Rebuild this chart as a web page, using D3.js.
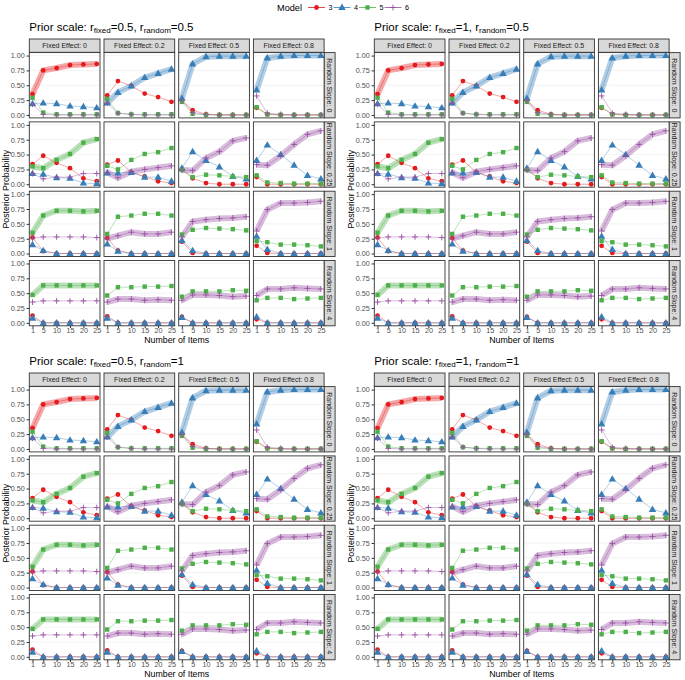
<!DOCTYPE html>
<html><head><meta charset="utf-8">
<script src="https://cdn.jsdelivr.net/npm/d3@7"></script>
<style>body{margin:0;background:#fff}svg{display:block;font-family:"Liberation Sans",Arial,sans-serif}</style>
</head><body>
<svg id="c" width="685" height="680"></svg>
<script>
const xItems = [1, 5, 10, 15, 20, 25];
const fixedEffects = ["0", "0.2", "0.5", "0.8"];
const randomSlopes = ["0", "0.25", "1", "4"];
const models = ["3", "4", "5", "6"];
const priorFixed = ["0.5", "1", "0.5", "1"];
const priorRandom = ["0.5", "0.5", "1", "1"];
const yTicks = [0, 0.25, 0.5, 0.75, 1];
// true (generating) model per [randomSlope][fixedEffect] -> drawn as thick band
const trueModel = [
  ["3", "4", "4", "4"],
  ["5", "6", "6", "6"],
  ["5", "6", "6", "6"],
  ["5", "6", "6", "6"]
];
// posterior probabilities, [randomSlope][fixedEffect] -> values at xItems
const probModel3 = [
  [[.35,.75,.79,.84,.85,.86],[.33,.57,.49,.36,.30,.22],[.25,.08,.01,0,0,0],[.12,.01,0,0,0,0]],
  [[.34,.48,.36,.27,.10,.05],[.33,.40,.20,.13,.05,.02],[.25,.10,.02,0,0,0],[.12,0,0,0,0,0]],
  [[.27,.04,0,0,0,0],[.26,.05,0,0,0,0],[.20,.01,0,0,0,0],[.13,.01,0,0,0,0]],
  [[.12,0,0,0,0,0],[.11,0,0,0,0,0],[.10,0,0,0,0,0],[.06,0,0,0,0,0]]
];
const probModel4 = [
  [[.19,.20,.19,.15,.14,.12],[.20,.38,.49,.63,.70,.77],[.28,.86,.98,.99,.99,.99],[.42,.96,.99,1,1,1]],
  [[.18,.17,.11,.10,.02,.01],[.19,.19,.20,.12,.12,.05],[.27,.55,.40,.29,.13,.09],[.40,.66,.50,.32,.15,.09]],
  [[.15,.05,0,0,0,0],[.16,.04,0,0,0,0],[.22,.05,0,0,0,0],[.29,.07,0,0,0,0]],
  [[.08,0,0,0,0,0],[.08,0,0,0,0,0],[.09,0,0,0,0,0],[.10,0,0,0,0,0]]
];
const probModel5 = [
  [[.29,.04,.01,.01,.01,.01],[.27,.03,.01,.01,.01,.01],[.22,.02,0,0,0,0],[.13,.01,0,0,0,0]],
  [[.30,.27,.41,.51,.70,.76],[.31,.25,.41,.51,.54,.61],[.24,.12,.16,.15,.13,.12],[.15,.03,.02,.01,.01,.01]],
  [[.35,.64,.72,.72,.71,.72],[.33,.62,.64,.67,.67,.64],[.32,.40,.43,.42,.41,.39],[.21,.19,.15,.15,.14,.12]],
  [[.47,.63,.63,.63,.63,.63],[.46,.60,.60,.61,.61,.62],[.44,.53,.53,.53,.55,.54],[.38,.42,.42,.40,.41,.42]]
];
const probModel6 = [
  [[.18,.01,0,0,0,0],[.20,.03,.01,0,0,0],[.24,.04,.01,0,0,0],[.32,.03,.01,0,0,0]],
  [[.18,.09,.12,.12,.18,.18],[.20,.11,.21,.25,.28,.31],[.24,.23,.44,.55,.73,.78],[.33,.32,.48,.67,.84,.90]],
  [[.26,.28,.28,.28,.28,.27],[.25,.30,.36,.33,.33,.36],[.28,.54,.57,.59,.60,.62],[.38,.74,.85,.85,.86,.88]],
  [[.35,.37,.37,.37,.37,.37],[.35,.40,.40,.38,.39,.38],[.38,.47,.47,.46,.44,.45],[.46,.57,.57,.59,.58,.57]]
];
const probByModel = [probModel3, probModel4, probModel5, probModel6];

// styles
const colors = ["#E41A1C", "#377EB8", "#4DAF4A", "#984EA3"];
const FONT_TICK = 7.2, FONT_STRIP = 7, FONT_AXIS = 8.8;

const svg = d3.select("#c");
const color = d3.scaleOrdinal().domain(models).range(colors);

function drawShape(g, m, x, y, scale = 1) {
  const c = color(m);
  if (m === "3") g.append("circle").attr("cx", x).attr("cy", y).attr("r", 2.4 * scale).attr("fill", c);
  else if (m === "4") g.append("path").attr("d", d3.symbol(d3.symbolTriangle, 24 * scale * scale)()).attr("transform", `translate(${x},${y + 0.4})`).attr("fill", c);
  else if (m === "5") g.append("rect").attr("x", x - 2.2 * scale).attr("y", y - 2.2 * scale).attr("width", 4.4 * scale).attr("height", 4.4 * scale).attr("fill", c);
  else {
    const a = 2.9 * scale;
    g.append("path").attr("d", `M${x - a},${y}H${x + a}M${x},${y - a}V${y + a}`).attr("stroke", c).attr("stroke-width", 0.9).attr("fill", "none");
  }
}

// legend
const leg = svg.append("g");
leg.append("text").attr("x", 277).attr("y", 11).attr("font-size", 9.2).attr("fill", "#000").text("Model");
models.forEach((m, i) => {
  const kx = 316.5 + i * 25.5;
  leg.append("line").attr("x1", kx - 8.5).attr("x2", kx + 8.5).attr("y1", 7.5).attr("y2", 7.5)
    .attr("stroke", color(m)).attr("stroke-width", 0.8);
  drawShape(leg, m, kx, 7.5);
  leg.append("text").attr("x", kx + 12).attr("y", 10).attr("font-size", FONT_TICK).attr("fill", "#000").text(m);
});

const groupX = [0, 345], groupY = [0, 334];
const L = 29.3, W = 70.7, GAP = 4, STRIP_TOP = 39, STRIP_H = 13.3;
const ROW_TOP = 52.6, ROW_H = 65.3, RSTRIP_W = 11;

priorFixed.forEach((pf, gi) => {
  const ox = groupX[gi % 2], oy = groupY[Math.floor(gi / 2)];
  const G = svg.append("g").attr("transform", `translate(${ox},${oy})`);
  // title
  const t = G.append("text").attr("x", L).attr("y", 30.5).attr("font-size", 11.5).attr("fill", "#000");
  t.append("tspan").text("Prior scale: r");
  t.append("tspan").attr("font-size", 8).attr("dy", 2.8).text("fixed");
  t.append("tspan").attr("dy", -2.8).text("=" + pf + ", r");
  t.append("tspan").attr("font-size", 8).attr("dy", 2.8).text("random");
  t.append("tspan").attr("dy", -2.8).text("=" + priorRandom[gi]);

  fixedEffects.forEach((fe, ci) => {
    const px = L + ci * (W + GAP);
    G.append("rect").attr("x", px).attr("y", STRIP_TOP).attr("width", W).attr("height", STRIP_H)
      .attr("fill", "#d9d9d9").attr("stroke", "#333").attr("stroke-width", 0.9);
    G.append("text").attr("x", px + W / 2).attr("y", STRIP_TOP + STRIP_H / 2 + 2.5).attr("text-anchor", "middle")
      .attr("font-size", FONT_STRIP).attr("fill", "#1a1a1a").text("Fixed Effect: " + fe);
  });

  randomSlopes.forEach((rs, ri) => {
    const py = ROW_TOP + ri * (ROW_H + GAP);
    const sx = L + 4 * W + 3 * GAP;
    G.append("rect").attr("x", sx).attr("y", py).attr("width", RSTRIP_W).attr("height", ROW_H)
      .attr("fill", "#d9d9d9").attr("stroke", "#333").attr("stroke-width", 0.9);
    G.append("text").attr("transform", `translate(${sx + RSTRIP_W / 2 - 2.5},${py + ROW_H / 2}) rotate(90)`)
      .attr("text-anchor", "middle").attr("font-size", FONT_STRIP).attr("fill", "#1a1a1a").text("Random Slope: " + rs);

    fixedEffects.forEach((fe, ci) => {
      const px = L + ci * (W + GAP);
      const x = d3.scaleLinear().domain([-0.2, 26.2]).range([px, px + W]);
      const y = d3.scaleLinear().domain([-0.05, 1.05]).range([py + ROW_H, py]);
      const P = G.append("g");
      P.append("rect").attr("x", px).attr("y", py).attr("width", W).attr("height", ROW_H).attr("fill", "#fff");
      P.selectAll("line.grid").data(yTicks).join("line").attr("x1", px).attr("x2", px + W)
        .attr("y1", d => y(d)).attr("y2", d => y(d)).attr("stroke", "#ebebeb").attr("stroke-width", 0.6);
      const line = d3.line().x((d, i) => x(xItems[i])).y(d => y(d));
      // thick band for true model
      const tm = trueModel[ri][ci];
      const tmi = models.indexOf(tm);
      P.append("path").attr("d", line(probByModel[tmi][ri][ci])).attr("fill", "none")
        .attr("stroke", color(tm)).attr("stroke-opacity", 0.38).attr("stroke-width", 6).attr("stroke-linejoin", "round");
      models.forEach((m, mi) => {
        P.append("path").attr("d", line(probByModel[mi][ri][ci])).attr("fill", "none")
          .attr("stroke", color(m)).attr("stroke-opacity", 0.55).attr("stroke-width", 0.7);
      });
      models.forEach((m, mi) => {
        probByModel[mi][ri][ci].forEach((v, i) => drawShape(P, m, x(xItems[i]), y(v)));
      });
      P.append("rect").attr("x", px).attr("y", py).attr("width", W).attr("height", ROW_H)
        .attr("fill", "none").attr("stroke", "#333").attr("stroke-width", 0.9);
      if (ci === 0) {
        const ax = G.append("g").attr("transform", `translate(${px},0)`)
          .call(d3.axisLeft(y).tickValues(yTicks).tickFormat(d3.format(".2f")).tickSize(2.75).tickPadding(1.8));
        ax.select(".domain").remove();
        ax.selectAll("line").attr("stroke", "#333");
        ax.selectAll("text").attr("font-size", FONT_TICK).attr("fill", "#4d4d4d").attr("font-family", "Liberation Sans, Arial, sans-serif");
      }
      if (ri === 3) {
        const ax = G.append("g").attr("transform", `translate(0,${py + ROW_H})`)
          .call(d3.axisBottom(x).tickValues(xItems).tickSize(2.2).tickPadding(0.4));
        ax.select(".domain").remove();
        ax.selectAll("line").attr("stroke", "#333");
        ax.selectAll("text").attr("dy", "0.62em").attr("font-size", FONT_TICK).attr("fill", "#4d4d4d").attr("font-family", "Liberation Sans, Arial, sans-serif");
      }
    });
  });
  const plotMidX = L + (4 * W + 3 * GAP) / 2;
  const lastBottom = ROW_TOP + 4 * ROW_H + 3 * GAP;
  G.append("text").attr("x", plotMidX).attr("y", lastBottom + 17.5).attr("text-anchor", "middle")
    .attr("font-size", FONT_AXIS).attr("fill", "#000").text("Number of Items");
  G.append("text").attr("transform", `translate(8.5,${(ROW_TOP + lastBottom) / 2}) rotate(-90)`).attr("text-anchor", "middle")
    .attr("font-size", FONT_AXIS).attr("fill", "#000").text("Posterior Probability");
});
</script>
</body></html>
